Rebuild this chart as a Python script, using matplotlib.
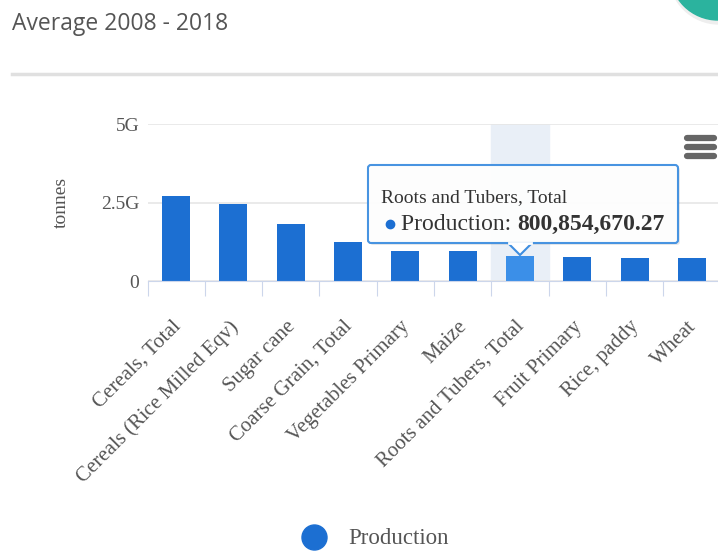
import matplotlib
matplotlib.use("Agg")
import matplotlib.pyplot as plt
import matplotlib.transforms as mtransforms
from matplotlib.patches import FancyBboxPatch, Polygon, Circle

# data (tonnes, average 2008 - 2018)
items = ["Cereals, Total", "Cereals (Rice Milled Eqv)", "Sugar cane",
         "Coarse Grain, Total", "Vegetables Primary", "Maize",
         "Roots and Tubers, Total", "Fruit Primary", "Rice, paddy", "Wheat"]
production = [2.70e9, 2.45e9, 1.80e9, 1.25e9, 0.97e9, 0.97e9,
              800854670.27, 0.77e9, 0.72e9, 0.72e9]
yticks = [0, 2.5e9, 5e9]
yticklabels = ["0", "2.5G", "5G"]
hover = 6

serif = "Liberation Serif"
blue = "#1c6fd2"

fig = plt.figure(figsize=(7.18, 5.52), dpi=100)

# main chart
ax = fig.add_axes([147.5 / 718, 1 - 281 / 552, 573 / 718, 157 / 552])
x = list(range(len(items)))
colors = [blue] * len(items)
colors[hover] = "#3b8fe8"
ax.axvspan(hover - 0.5, hover + 0.5, color="#e9eff7", zorder=0)
ax.bar(x, production, width=0.49, color=colors, zorder=2)
ax.set_xlim(-0.5, len(items) - 0.5)
ax.set_ylim(0, 5e9)
ax.set_yticks(yticks)
ax.set_yticklabels(yticklabels, fontfamily=serif, fontsize=14, color="#555555")
ax.yaxis.grid(True, color="#e6e6e6", linewidth=1.2, zorder=1)
ax.set_axisbelow(True)
for s in ["top", "right", "left"]:
    ax.spines[s].set_visible(False)
ax.spines["bottom"].set_color("#ccd6eb")
ax.tick_params(axis="y", length=0, pad=6)
ax.set_xticks([i + 0.5 for i in range(-1, len(items))], minor=False)
ax.set_xticklabels([])
ax.tick_params(axis="x", which="major", length=11, color="#ccd6eb", direction="out")
ax.set_xticks(x, minor=True)
ax.set_xticklabels(items, minor=True, rotation=45, ha="right", va="top",
                   rotation_mode="anchor", fontfamily=serif, fontsize=15,
                   color="#555555")
ax.tick_params(axis="x", which="minor", length=0, pad=26)
shift = mtransforms.ScaledTranslation(-5 / 100, 0, fig.dpi_scale_trans)
for lab in ax.get_xticklabels(minor=True):
    lab.set_transform(lab.get_transform() + shift)
ax.set_ylabel("tonnes", fontfamily=serif, fontsize=14, color="#555555", labelpad=22)

# overlay for page decorations, in pixel units
ov = fig.add_axes([0, 0, 1, 1], zorder=5)
ov.set_xlim(0, 718)
ov.set_ylim(552, 0)
ov.axis("off")
ov.patch.set_alpha(0)

fig.text(12 / 718, 1 - 24 / 552, "Average 2008 - 2018", fontfamily="Open Sans",
         fontsize=16.5, color="#555555", va="center", ha="left")
ov.plot([12, 718], [74, 74], color="#e0e0e0", linewidth=2.5)
ov.add_patch(Circle((719, -26), 50, color="#eeeeee", zorder=1))
ov.add_patch(Circle((718, -28), 48, color="#2bb39e", zorder=2))

# menu icon
for yy in [138, 147, 156]:
    ov.plot([687, 714], [yy, yy], color="#666666", linewidth=4.5,
            solid_capstyle="round")

# tooltip
ov.add_patch(FancyBboxPatch((370, 167), 310, 78, boxstyle="round,pad=0,rounding_size=3",
                            facecolor="#777777", edgecolor="none", alpha=0.15, zorder=3))
ov.add_patch(FancyBboxPatch((368, 165), 310, 78, boxstyle="round,pad=0,rounding_size=3",
                            facecolor="white", edgecolor="#3e8ee0", linewidth=1.5,
                            alpha=0.95, zorder=4))
ov.add_patch(Polygon([[508, 243], [520, 255], [532, 243]], closed=False,
                     facecolor="white", edgecolor="#3e8ee0", linewidth=1.5, zorder=5))
ov.plot([509, 531], [243, 243], color="white", linewidth=2, zorder=6)
ov.text(381, 198, items[hover], fontfamily=serif, fontsize=14,
        color="#333333", va="center", zorder=7)
ov.plot(390, 224, "o", color=blue, markersize=6, zorder=7)
t = ov.text(401, 224, "Production: ", fontfamily=serif, fontsize=17,
            color="#333333", va="center", zorder=7)
ov.annotate(f"{production[hover]:,.2f}", xy=(1, 0.5), xycoords=t,
            fontfamily=serif, fontsize=17, fontweight="bold", color="#333333",
            va="center", ha="left", zorder=7)

# legend
ov.plot(314, 537, "o", color=blue, markersize=18)
ov.text(348, 539, "Production", fontfamily=serif, fontsize=16.5,
        color="#555555", va="center")

fig.savefig("out.png", dpi=100)
